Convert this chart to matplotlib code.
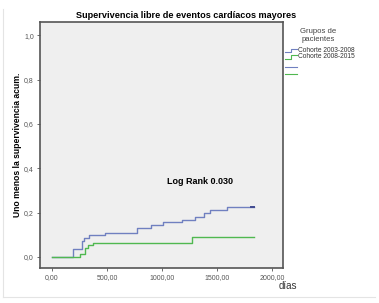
import matplotlib
matplotlib.use("Agg")
import matplotlib.pyplot as plt
from matplotlib.lines import Line2D

plt.rcParams['font.family'] = ['Liberation Sans', 'DejaVu Sans']

# step data (day, 1 - survival)
blue_days = [0, 190, 270, 295, 340, 480, 775, 900, 1010, 1180, 1300, 1385, 1436, 1590, 1835]
blue_vals = [0, 0.035, 0.070, 0.085, 0.097, 0.108, 0.130, 0.145, 0.158, 0.168, 0.180, 0.200, 0.213, 0.226, 0.226]
green_days = [0, 255, 300, 330, 375, 1275, 1835]
green_vals = [0, 0.015, 0.040, 0.052, 0.063, 0.088, 0.088]

xticks = [0, 500, 1000, 1500, 2000]
xlabels = ['0,00', '500,00', '1000,00', '1500,00', '2000,00']
yticks = [0, 0.2, 0.4, 0.6, 0.8, 1.0]
ylabels = ['0,0', '0,2', '0,4', '0,6', '0,8', '1,0']

blue = '#7080c0'
green = '#50b850'

fig = plt.figure(figsize=(3.79, 3.03), dpi=100)
ax = fig.add_axes([0.1055, 0.1155, 0.6412, 0.8119])
ax.set_facecolor('#efefef')

ax.step(blue_days, blue_vals, where='post', color=blue, lw=1.0)
ax.step(green_days, green_vals, where='post', color=green, lw=1.0)
ax.plot([blue_days[-1] - 30, blue_days[-1]], [blue_vals[-1]] * 2, color='#404a90', lw=1.4)

ax.set_xlim(-109, 2100)
ax.set_ylim(-0.05, 1.06)
ax.set_xticks(xticks)
ax.set_xticklabels(xlabels)
ax.set_yticks(yticks)
ax.set_yticklabels(ylabels)
ax.tick_params(labelsize=5, colors='#555555', length=2.5, width=0.6, pad=2)
for s in ax.spines.values():
    s.set_color('#555555')
    s.set_linewidth(1.2)

ax.set_ylabel('Uno menos la supervivencia acum.', fontsize=6.2, fontweight='bold', labelpad=1)
fig.text(0.49, 0.948, 'Supervivencia libre de eventos cardíacos mayores',
         ha='center', va='center', fontsize=6.6, fontweight='bold')
fig.text(0.76, 0.056, 'días', ha='center', va='center', fontsize=7, color='#333333')
ax.text(1345, 0.342, 'Log Rank 0.030', ha='center', va='center', fontsize=6.5, fontweight='bold')

# legend outside the plot
fig.text(0.839, 0.883, 'Grupos de\npacientes', ha='center', va='center', fontsize=5.6,
         color='#444444', linespacing=1.05)
for yy, col, lab in [(0.833, blue, 'Cohorte 2003-2008'), (0.812, green, 'Cohorte 2008-2015')]:
    xs = [0.752, 0.768, 0.768, 0.784]
    ys = [yy - 0.006, yy - 0.006, yy + 0.006, yy + 0.006]
    fig.add_artist(Line2D(xs, ys, color=col, lw=0.8, transform=fig.transFigure))
    fig.text(0.786, yy, lab, ha='left', va='center', fontsize=4.8, color='#333333')
fig.add_artist(Line2D([0.752, 0.784], [0.780, 0.780], color=blue, lw=0.8, transform=fig.transFigure))
fig.add_artist(Line2D([0.752, 0.784], [0.756, 0.756], color=green, lw=0.8, transform=fig.transFigure))

# faint frame of the original screenshot
fig.add_artist(Line2D([0.008, 0.008], [0.02, 0.97], color='#e4e4e4', lw=0.8, transform=fig.transFigure))
fig.add_artist(Line2D([0.008, 0.99], [0.02, 0.02], color='#e4e4e4', lw=0.8, transform=fig.transFigure))

fig.savefig('out.png', dpi=100)
